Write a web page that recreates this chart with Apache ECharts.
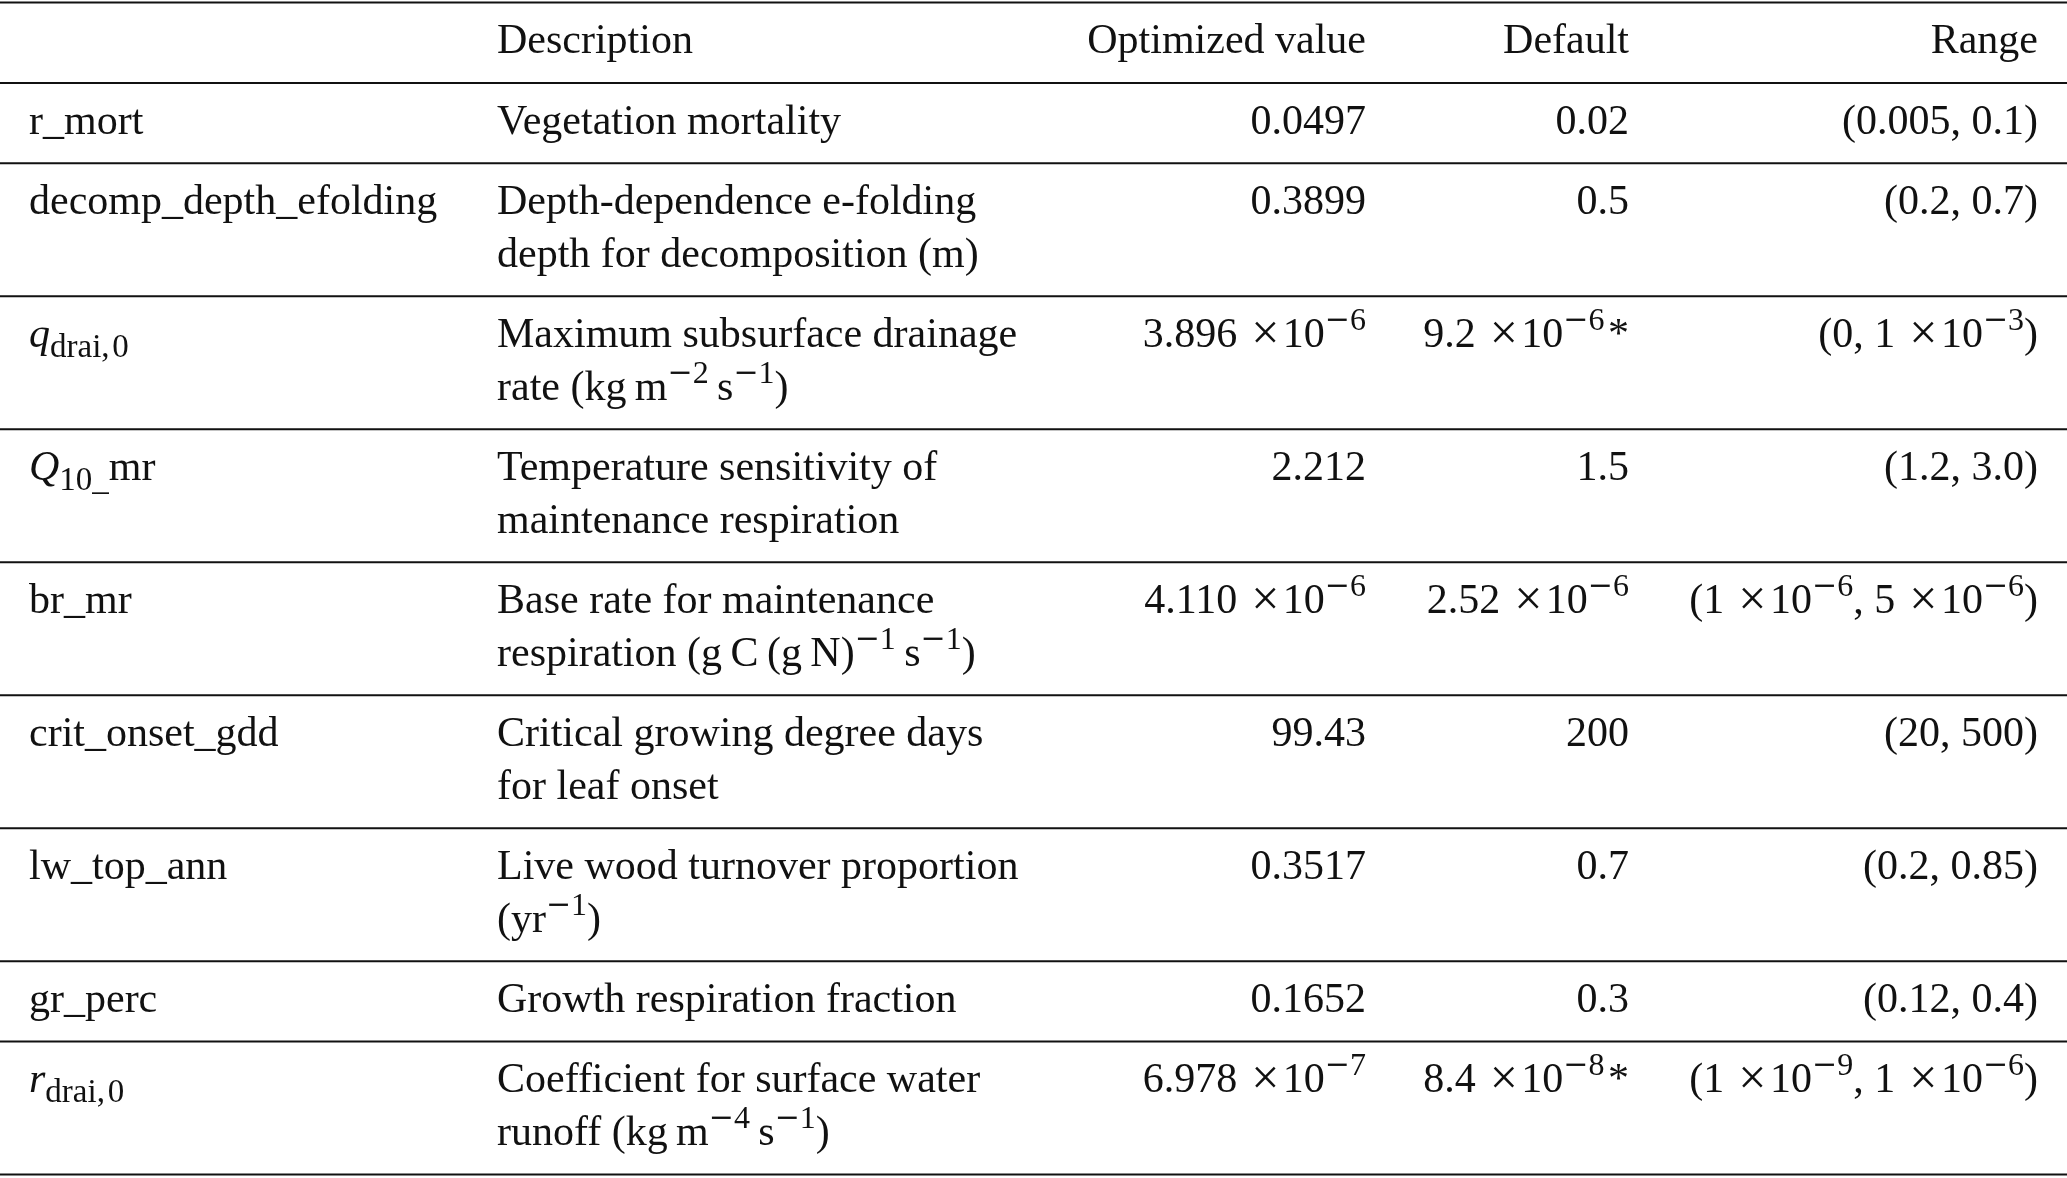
<!DOCTYPE html>
<html><head><meta charset="utf-8">
<script src="https://cdn.jsdelivr.net/npm/echarts@6/dist/echarts.min.js"></script>
<style>html,body{margin:0;padding:0;background:#fff}#c{width:2067px;height:1178px}</style>
</head><body><div id="c"></div>
<script>
// ---- table content ( ^{...} = superscript, {it|..} italic, {sub|..} subscript ) ----
const headers = ['', 'Description', 'Optimized value', 'Default', 'Range'];
const names = [
  'r_mort',
  'decomp_depth_efolding',
  '{it|q}{sub|drai,\u200a0}',
  '{it|Q}{sub|10_}mr',
  'br_mr',
  'crit_onset_gdd',
  'lw_top_ann',
  'gr_perc',
  '{it|r}{sub|drai,\u200a0}'
];
const descriptions = [
  'Vegetation mortality',
  'Depth-dependence e-folding\ndepth for decomposition (m)',
  'Maximum subsurface drainage\nrate (kg\u2009m^{\u22122}\u2009s^{\u22121})',
  'Temperature sensitivity of\nmaintenance respiration',
  'Base rate for maintenance\nrespiration (g\u2009C\u2009(g\u2009N)^{\u22121}\u2009s^{\u22121})',
  'Critical growing degree days\nfor leaf onset',
  'Live wood turnover proportion\n(yr^{\u22121})',
  'Growth respiration fraction',
  'Coefficient for surface water\nrunoff (kg\u2009m^{\u22124}\u2009s^{\u22121})'
];
const optimized = [
  '0.0497', '0.3899', '3.896 \u00d710^{\u22126}', '2.212',
  '4.110 \u00d710^{\u22126}', '99.43', '0.3517', '0.1652',
  '6.978 \u00d710^{\u22127}'
];
const defaults = [
  '0.02', '0.5', '9.2 \u00d710^{\u22126}\u200a*', '1.5',
  '2.52 \u00d710^{\u22126}', '200', '0.7', '0.3',
  '8.4 \u00d710^{\u22128}\u200a*'
];
const ranges = [
  '(0.005, 0.1)', '(0.2, 0.7)', '(0, 1 \u00d710^{\u22123})', '(1.2, 3.0)',
  '(1 \u00d710^{\u22126}, 5 \u00d710^{\u22126})', '(20, 500)', '(0.2, 0.85)',
  '(0.12, 0.4)', '(1 \u00d710^{\u22129}, 1 \u00d710^{\u22126})'
];

// ---- layout / style ----
const FONT = 'Liberation Serif, Times New Roman, serif';
const FS = 42, LH = 53;
const columnAnchor = [29, 497, 1366, 1629, 2038];
const columnAlign = ['left', 'left', 'right', 'right', 'right'];
const PAD = 0.526;         // row padding in line units
const TEXT_OFFSET = 0.25;  // text top offset in line units
const INK = '#111';
const RICH = {
  it:  {fontFamily: FONT, fontSize: FS, fontStyle: 'italic', lineHeight: LH, fill: INK},
  sub: {fontFamily: FONT, fontSize: 33, lineHeight: LH, padding: [24, 0, 0, 0], fill: INK},
  sup: {fontFamily: FONT, fontSize: 32, lineHeight: LH, padding: [0, 0, 29, 0], fill: INK},
  sm:  {fontFamily: 'DejaVu Serif', fontSize: 30, lineHeight: LH, padding: [0, 0, 29, 0], fill: INK},
  x:   {fontFamily: FONT, fontSize: 50, lineHeight: LH, fill: INK}
};
function toRich(s) {
  return s
    .replace(/ \u00d7/g, ' \u200a{x|\u00d7}\u200a')
    .replace(/\^\{(\u2212?)([^}]*)\}/g, (m, minus, body) =>
      (minus ? '{sm|\u2212}' : '') + '{sup|' + body + '}');
}

const rows = [headers].concat(names.map((n, i) => [n, descriptions[i], optimized[i], defaults[i], ranges[i]]));
const lineCounts = rows.map(r => Math.max.apply(null, r.map(c => c.split('\n').length)));
const rowTop = [];
let acc = 0;
lineCounts.forEach(n => { rowTop.push(acc); acc += PAD + n; });
const TOTAL = acc;

const chart = echarts.init(document.getElementById('c'), null, {renderer: 'canvas'});
chart.setOption({
  backgroundColor: '#fff',
  animation: false,
  grid: {left: 0, right: 0, top: 2.6, bottom: 3.5, containLabel: false},
  xAxis: {type: 'value', min: 0, max: 2067, show: false},
  yAxis: {type: 'value', min: 0, max: TOTAL, inverse: true, show: false},
  series: [{
    type: 'custom',
    coordinateSystem: 'cartesian2d',
    silent: true,
    clip: false,
    data: rows.map((r, i) => [0, rowTop[i], i]),
    encode: {x: 0, y: 1},
    renderItem: function (params, api) {
      const i = api.value(2);
      const top = rowTop[i];
      const bottom = top + PAD + lineCounts[i];
      const children = [];
      const rule = (yv) => {
        const a = api.coord([0, yv]), b = api.coord([2067, yv]);
        return {type: 'line', shape: {x1: a[0], y1: a[1], x2: b[0], y2: b[1]},
                style: {stroke: INK, lineWidth: 2}};
      };
      if (i === 0) children.push(rule(top));
      children.push(rule(bottom));
      rows[i].forEach((txt, c) => {
        if (!txt) return;
        const p = api.coord([columnAnchor[c], top + TEXT_OFFSET]);
        children.push({
          type: 'text', x: p[0], y: p[1],
          style: {
            text: toRich(txt), rich: RICH, fontFamily: FONT, fontSize: FS, lineHeight: LH,
            fill: INK, align: columnAlign[c], verticalAlign: 'top'
          }
        });
      });
      return {type: 'group', children: children};
    }
  }]
});
</script>
</body></html>
